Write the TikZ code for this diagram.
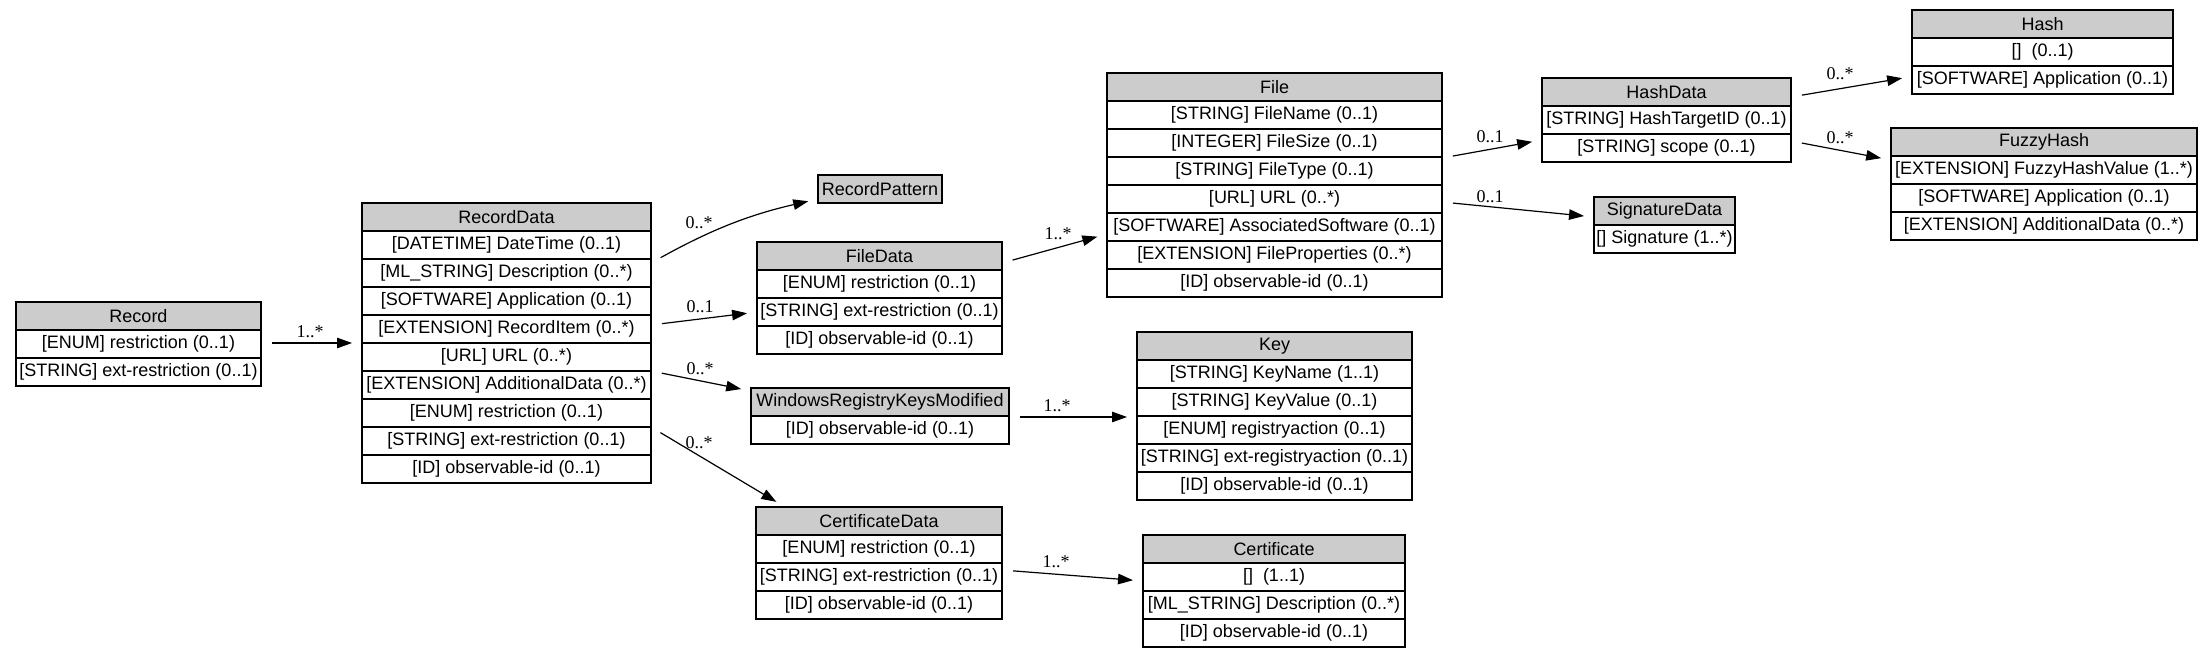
\documentclass[tikz,border=0pt]{standalone}
\usepackage{fontspec}
\setmainfont{Liberation Sans}
\newfontfamily\lblfont{Liberation Serif}
\usetikzlibrary{arrows.meta}
\definecolor{hdrgray}{HTML}{CCCCCC}
\tikzset{
  cell/.style={draw=black, line width=1.2pt, minimum height=28, inner sep=0pt, outer sep=0pt,
    anchor=north west, font=\fontsize{18}{20}\selectfont, text=black},
  hdr/.style={cell, fill=hdrgray},
  rowcell/.style={cell, fill=white},
  edge/.style={-{Triangle[length=15pt,width=10.5pt]}, line width=1.2pt, shorten <=11pt, shorten >=10pt},
  mult/.style={font=\lblfont\fontsize{18}{20}\selectfont, inner sep=0pt},
}
\newcommand\umlbox[6]{%
  \node[hdr, minimum width=#4] (#1) at (#2,#3) {#5};
  \foreach \t [count=\i] in {#6} {
    \node[rowcell, minimum width=#4] (#1-\i) at (#2,#3+28*\i) {\t};
  }%
}
\begin{document}
\begin{tikzpicture}[x=1pt,y=-1pt]
\useasboundingbox[fill=white] (0,0) rectangle (2212,658);

\umlbox{rec}{16}{302}{245}{Record}{{[ENUM] restriction (0..1)},{[STRING] ext-restriction (0..1)}}
\umlbox{rd}{362}{203}{289}{RecordData}{{[DATETIME] DateTime (0..1)},{[ML\_STRING] Description (0..*)},{[SOFTWARE] Application (0..1)},{[EXTENSION] RecordItem (0..*)},{[URL] URL (0..*)},{[EXTENSION] AdditionalData (0..*)},{[ENUM] restriction (0..1)},{[STRING] ext-restriction (0..1)},{[ID] observable-id (0..1)}}
\node[hdr, minimum width=124] (rp) at (818,175) {RecordPattern};
\umlbox{fd}{757}{242}{245}{FileData}{{[ENUM] restriction (0..1)},{[STRING] ext-restriction (0..1)},{[ID] observable-id (0..1)}}
\umlbox{wr}{751}{388}{258}{WindowsRegistryKeysModified}{{[ID] observable-id (0..1)}}
\umlbox{cd}{756}{507}{246}{CertificateData}{{[ENUM] restriction (0..1)},{[STRING] ext-restriction (0..1)},{[ID] observable-id (0..1)}}
\umlbox{file}{1107}{73}{335}{File}{{[STRING] FileName (0..1)},{[INTEGER] FileSize (0..1)},{[STRING] FileType (0..1)},{[URL] URL (0..*)},{[SOFTWARE] AssociatedSoftware (0..1)},{[EXTENSION] FileProperties (0..*)},{[ID] observable-id (0..1)}}
\umlbox{key}{1137}{332}{275}{Key}{{[STRING] KeyName (1..1)},{[STRING] KeyValue (0..1)},{[ENUM] registryaction (0..1)},{[STRING] ext-registryaction (0..1)},{[ID] observable-id (0..1)}}
\umlbox{cert}{1143}{535}{262}{Certificate}{{[]\ \ (1..1)},{[ML\_STRING] Description (0..*)},{[ID] observable-id (0..1)}}
\umlbox{hd}{1542}{78}{249}{HashData}{{[STRING] HashTargetID (0..1)},{[STRING] scope (0..1)}}
\umlbox{sig}{1594}{197}{141}{SignatureData}{{[] Signature (1..*)}}
\umlbox{hash}{1912}{10}{261}{Hash}{{[]\ \ (0..1)},{[SOFTWARE] Application (0..1)}}
\umlbox{fz}{1891}{128}{306}{FuzzyHash}{{[EXTENSION] FuzzyHashValue (1..*)},{[SOFTWARE] Application (0..1)},{[EXTENSION] AdditionalData (0..*)}}

\draw[edge] (rec.east |- 0,343) -- (rd.west |- 0,343);
\draw[edge] (rd.east |- 0,263) to[bend left=8] (rp.west |- 0,199);
\draw[edge] (rd.east |- 0,325) -- (fd.west |- 0,312);
\draw[edge] (rd.east |- 0,371) -- (wr.west |- 0,391);
\draw[edge] (rd.east |- 0,427) -- (cd.north -| 785,0);
\draw[edge] (fd.east |- 0,263) -- (file.west |- 0,234);
\draw[edge] (wr.east |- 0,417) -- (key.west |- 0,417);
\draw[edge] (cd.east |- 0,570) -- (cert.west |- 0,581);
\draw[edge] (file.east |- 0,158) -- (hd.west |- 0,140);
\draw[edge] (file.east |- 0,202) -- (sig.west |- 0,217);
\draw[edge] (hd.east |- 0,97) -- (hash.west |- 0,76.5);
\draw[edge] (hd.east |- 0,141) -- (fz.west |- 0,160);

\node[mult] (la) at (310,332) {1..*};
\node[mult] (lb) at (699,223) {0..*};
\node[mult] (lc) at (700,307) {0..1};
\node[mult] (ld) at (700,369) {0..*};
\node[mult] (le) at (699,443) {0..*};
\node[mult] (lf) at (1058,234) {1..*};
\node[mult] (lg) at (1057,406) {1..*};
\node[mult] (lh) at (1056,562) {1..*};
\node[mult] (li) at (1490,137) {0..1};
\node[mult] (lj) at (1490,197) {0..1};
\node[mult] (lk) at (1840,74) {0..*};
\node[mult] (ll) at (1840,138) {0..*};
\end{tikzpicture}
\end{document}
